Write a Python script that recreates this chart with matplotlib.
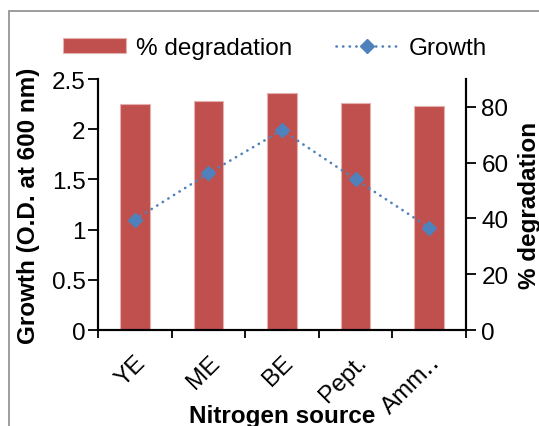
import matplotlib.pyplot as plt
from matplotlib.patches import Rectangle

# --- data ---
sources = ['YE', 'ME', 'BE', 'Pept.', 'Amm‥']
degradation = [80.9, 82.1, 84.9, 81.3, 80.5]   # % degradation (right axis)
growth = [1.10, 1.56, 1.99, 1.50, 1.02]         # O.D. at 600 nm (left axis)

BAR_COLOR = '#C0504D'
LINE_COLOR = '#4F81BD'

plt.rcParams['font.family'] = ['Liberation Sans', 'DejaVu Sans']
plt.rcParams['font.size'] = 17.5

fig = plt.figure(figsize=(5.39, 4.27), dpi=100)
ax1 = fig.add_axes([0.1818, 0.2248, 0.6828, 0.5878])
ax2 = ax1.twinx()

# gray chart frame
fig.patches.append(Rectangle((9 / 539, -0.1), 1.2, 1 - 12 / 427 + 0.1,
                             transform=fig.transFigure, fill=False,
                             edgecolor='#8c8c8c', linewidth=1.2))

x = [i + 0.5 for i in range(len(sources))]

bars = ax2.bar(x, degradation, width=0.4, color=BAR_COLOR,
               edgecolor='#E6B0AE', linewidth=0.8, label='% degradation')
line, = ax1.plot(x, growth, color=LINE_COLOR, linestyle=(0, (0.1, 2.4)),
                 linewidth=1.9, dash_capstyle='round', marker='D',
                 markersize=7, label='Growth')

# line above bars
ax1.set_zorder(ax2.get_zorder() + 1)
ax1.patch.set_visible(False)

ax1.set_xlim(0, 5)
ax1.set_ylim(0, 2.5)
ax2.set_ylim(0, 90)
ax1.set_yticks([0, 0.5, 1, 1.5, 2, 2.5])
ax1.set_yticklabels(['0', '0.5', '1', '1.5', '2', '2.5'])
ax2.set_yticks([0, 20, 40, 60, 80])

# category boundaries as ticks, labels at centers
ax1.set_xticks(range(6))
ax1.set_xticklabels([])
ax1.set_xticks(x, minor=True)
ax1.set_xticklabels(sources, minor=True, rotation=45, ha='right',
                    rotation_mode='anchor')
ax1.tick_params(axis='x', which='minor', length=0, pad=15)
ax1.tick_params(axis='x', which='major', length=6, width=1.3, direction='out')
ax1.tick_params(axis='y', length=7, width=1.3, direction='out', pad=2)
ax2.tick_params(axis='y', length=7, width=1.3, direction='out', pad=4)

for ax in (ax1, ax2):
    ax.spines['top'].set_visible(False)
    for s in ('left', 'right', 'bottom'):
        ax.spines[s].set_linewidth(1.5)

ax1.set_ylabel('Growth (O.D. at 600 nm)', fontweight='bold')
ax1.yaxis.set_label_coords(-0.158, 0.5)
ax2.set_ylabel('% degradation', fontweight='bold')
ax2.yaxis.set_label_coords(1.14, 0.5)
ax1.set_xlabel('Nitrogen source', fontweight='bold')
ax1.xaxis.set_label_coords(0.5, -0.295)

fig.legend([bars, line], ['% degradation', 'Growth'], loc='center',
           bbox_to_anchor=(0.51, 0.885), ncol=2, frameon=False,
           handlelength=2.6, handleheight=0.6, columnspacing=1.8,
           handletextpad=0.4)

fig.savefig('out.png', dpi=100)
